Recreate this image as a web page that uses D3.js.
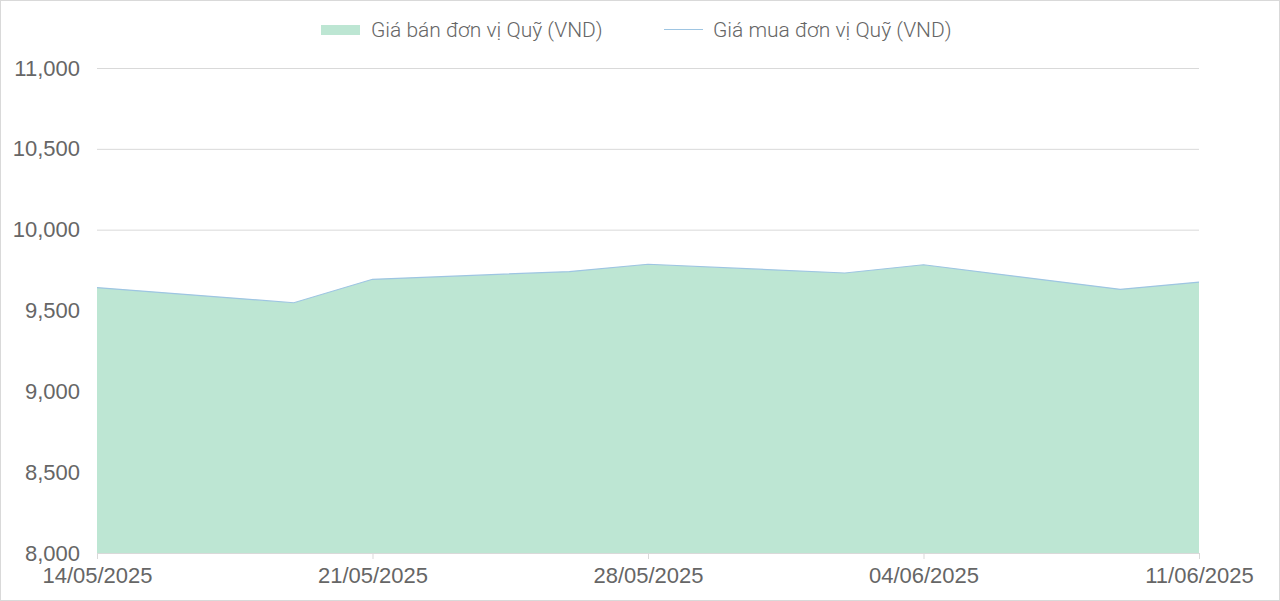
<!DOCTYPE html>
<html>
<head>
<meta charset="utf-8">
<script src="https://cdn.jsdelivr.net/npm/d3@7"></script>
<style>
  body { margin: 0; background: #fff; }
  svg { display: block; font-family: Roboto, "Noto Sans", sans-serif; font-weight: 300; }
</style>
</head>
<body>
<div id="chart"></div>
<script>
// values
let dates = ['2025-05-14', '2025-05-19', '2025-05-21', '2025-05-26', '2025-05-28',
             '2025-06-02', '2025-06-04', '2025-06-09', '2025-06-11']
let sellPrice = [9642, 9548, 9693, 9741, 9786, 9732, 9783, 9631, 9676]
let buyPrice = [9642, 9548, 9693, 9741, 9786, 9732, 9783, 9631, 9676]
let tickDates = ['2025-05-14', '2025-05-21', '2025-05-28', '2025-06-04', '2025-06-11']
let yTicks = [8000, 8500, 9000, 9500, 10000, 10500, 11000]
let seriesNames = ['Giá bán đơn vị Quỹ (VND)', 'Giá mua đơn vị Quỹ (VND)']

let width = 1280, height = 601
let margin = {top: 68, right: 81, bottom: 48, left: 97}
let parse = d3.timeParse('%Y-%m-%d')
let fmtDate = d3.timeFormat('%d/%m/%Y')
let fmtNum = d3.format(',')
let textColor = '#666'

let rows = dates.map((d, i) => ({date: parse(d), sell: sellPrice[i], buy: buyPrice[i]}))

let svg = d3.select('#chart').append('svg')
  .attr('width', width)
  .attr('height', height)

svg.append('rect')
  .attr('x', 0.5).attr('y', 0.5)
  .attr('width', width - 1).attr('height', height - 1)
  .attr('fill', '#fff')
  .attr('stroke', '#d9d9d9')

let x = d3.scaleTime()
  .domain(d3.extent(rows, d => d.date))
  .range([margin.left, width - margin.right])

let y = d3.scaleLinear()
  .domain([8000, 11000])
  .range([height - margin.bottom, margin.top])

// grid
let yAxis = svg.append('g')
  .attr('transform', `translate(${margin.left},0)`)
  .call(d3.axisLeft(y).tickValues(yTicks).tickFormat(fmtNum)
    .tickSize(-(width - margin.left - margin.right)).tickPadding(17))
yAxis.select('.domain').remove()
yAxis.selectAll('.tick line').attr('stroke', '#d9d9d9').attr('stroke-width', 1)
yAxis.selectAll('.tick text')
  .attr('fill', textColor)
  .style('font-size', '22px')

// area + line
svg.append('path')
  .datum(rows)
  .attr('fill', '#bde6d3')
  .attr('d', d3.area().x(d => x(d.date)).y0(y(8000)).y1(d => y(d.sell)))

svg.append('path')
  .datum(rows)
  .attr('fill', 'none')
  .attr('stroke', '#9ec5e2')
  .attr('stroke-width', 1.2)
  .attr('d', d3.line().x(d => x(d.date)).y(d => y(d.buy)))

// x axis
let xAxis = svg.append('g')
  .attr('transform', `translate(0,${y(8000)})`)
  .call(d3.axisBottom(x).tickValues(tickDates.map(parse)).tickFormat(fmtDate)
    .tickSize(6).tickSizeOuter(0).tickPadding(8))
xAxis.select('.domain').attr('stroke', '#d9d9d9')
xAxis.selectAll('.tick line').attr('stroke', '#d9d9d9')
xAxis.selectAll('.tick text')
  .attr('fill', textColor)
  .style('font-size', '22px')

// legend
let legend = svg.append('g').style('font-size', '21px')
legend.append('rect')
  .attr('x', 321).attr('y', 25).attr('width', 39).attr('height', 10)
  .attr('fill', '#bde6d3')
legend.append('text')
  .attr('x', 371).attr('y', 30).attr('dy', '0.35em')
  .attr('fill', textColor)
  .text(seriesNames[0])
legend.append('line')
  .attr('x1', 664).attr('x2', 703).attr('y1', 29.5).attr('y2', 29.5)
  .attr('stroke', '#9ec5e2').attr('stroke-width', 1.2)
legend.append('text')
  .attr('x', 713).attr('y', 30).attr('dy', '0.35em')
  .attr('fill', textColor)
  .text(seriesNames[1])
</script>
</body>
</html>
